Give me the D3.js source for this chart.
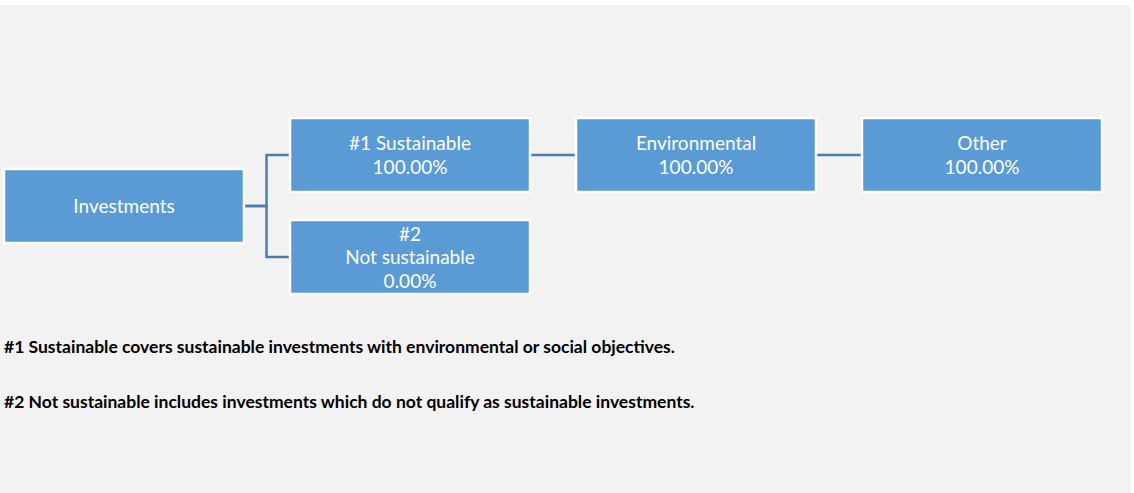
<!DOCTYPE html>
<html>
<head>
<meta charset="utf-8">
<script src="https://cdn.jsdelivr.net/npm/d3@7"></script>
<style>
  body { margin: 0; background: #fff; }
  svg { display: block; }
</style>
</head>
<body>
<svg width="1134" height="493"></svg>
<script>
// tree of the asset allocation
var nodeIds = ["Investments", "#1 Sustainable", "#2 Not sustainable", "Environmental", "Other"];
var nodeParents = ["", "Investments", "Investments", "#1 Sustainable", "Environmental"];
var nodeLabels = [["Investments"], ["#1 Sustainable"], ["#2", "Not sustainable"], ["Environmental"], ["Other"]];
var nodeShares = [null, 100.00, 0.00, 100.00, 100.00];
var footnotes = [
  "#1 Sustainable covers sustainable investments with environmental or social objectives.",
  "#2 Not sustainable includes investments which do not qualify as sustainable investments."
];

var width = 1134, height = 493;
var boxW = 240, boxH = 74;
var svg = d3.select("svg");

// background panel
svg.append("rect")
  .attr("x", 0).attr("y", 5)
  .attr("width", 1131).attr("height", height - 5)
  .attr("fill", "#f2f2f2");

var rows = nodeIds.map(function(id, i) {
  return {id: id, parent: nodeParents[i], lines: nodeLabels[i], share: nodeShares[i]};
});
var root = d3.stratify()
  .id(function(d) { return d.id; })
  .parentId(function(d) { return d.parent || null; })(rows);

// horizontal tree: x = depth, y = sibling position
d3.tree().nodeSize([102, 286]).separation(function() { return 1; })(root);

var xPos = d3.scaleLinear().domain([0, 286]).range([124, 410]);
var yPos = d3.scaleLinear().domain([0, 102]).range([206, 308]);

var g = svg.append("g");

// connectors
g.selectAll("path.link")
  .data(root.links())
  .enter().append("path")
  .attr("class", "link")
  .attr("fill", "none")
  .attr("stroke", "#4a7db0")
  .attr("stroke-width", 2.5)
  .attr("d", function(l) {
    var x0 = xPos(l.source.y) + boxW / 2, y0 = yPos(l.source.x);
    var x1 = xPos(l.target.y) - boxW / 2, y1 = yPos(l.target.x);
    var xm = x0 + 22.5;
    return "M" + x0 + "," + y0 + "H" + xm + "V" + y1 + "H" + x1;
  });

// boxes
var node = g.selectAll("g.node")
  .data(root.descendants())
  .enter().append("g")
  .attr("class", "node")
  .attr("transform", function(d) { return "translate(" + xPos(d.y) + "," + yPos(d.x) + ")"; });

node.append("rect")
  .attr("x", -boxW / 2).attr("y", -boxH / 2)
  .attr("width", boxW).attr("height", boxH)
  .attr("fill", "#5b9bd5")
  .attr("stroke", "#ffffff")
  .attr("stroke-width", 2.5);

node.each(function(d) {
  var lines = d.data.lines.slice();
  if (d.data.share != null) lines.push(d.data.share.toFixed(2) + "%");
  var n = lines.length;
  d3.select(this).selectAll("text")
    .data(lines)
    .enter().append("text")
    .attr("text-anchor", "middle")
    .attr("font-family", "Lato, 'Open Sans', sans-serif")
    .attr("font-size", 19)
    .attr("fill", "#ffffff")
    .attr("y", function(t, i) { return (i - (n - 1) / 2) * 23.5 + 7; })
    .text(function(t) { return t; });
});

// footnotes
svg.selectAll("text.note")
  .data(footnotes)
  .enter().append("text")
  .attr("class", "note")
  .attr("x", 4)
  .attr("y", function(d, i) { return 353 + i * 54.5; })
  .attr("font-family", "Lato, sans-serif")
  .attr("font-weight", "bold")
  .attr("font-size", 17.5)
  .attr("fill", "#000")
  .text(function(d) { return d; });
</script>
</body>
</html>
